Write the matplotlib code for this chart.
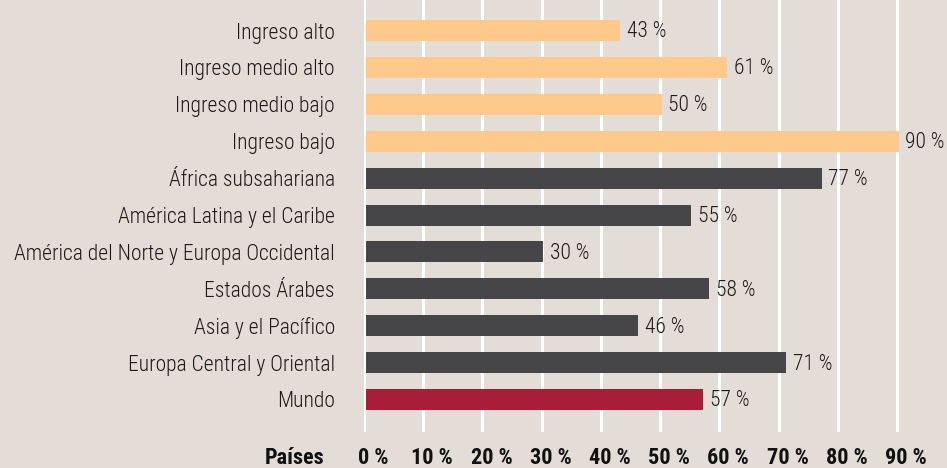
import matplotlib
matplotlib.use("Agg")
import matplotlib.pyplot as plt
from matplotlib import font_manager
from matplotlib.transforms import ScaledTranslation

categories = ["Ingreso alto", "Ingreso medio alto", "Ingreso medio bajo", "Ingreso bajo",
              "África subsahariana", "América Latina y el Caribe",
              "América del Norte y Europa Occidental", "Estados Árabes",
              "Asia y el Pacífico", "Europa Central y Oriental", "Mundo"]
values = [43, 61, 50, 90, 77, 55, 30, 58, 46, 71, 57]
groups = ["ingreso"] * 4 + ["region"] * 6 + ["mundo"]
tick_values = [0, 10, 20, 30, 40, 50, 60, 70, 80, 90]
tick_labels = [f"{v} %" for v in tick_values]
axis_label = "Países"

colors = {"ingreso": "#fec98a", "region": "#464548", "mundo": "#a81d37"}
bg = "#e4dcd6"

names = {f.name for f in font_manager.fontManager.ttflist}
fam = ["Roboto Condensed", "Liberation Sans Narrow", "DejaVu Sans"]
fam = [f for f in fam if f in names] or ["DejaVu Sans"]
plt.rcParams["font.family"] = fam

W, H = 947, 468
fig = plt.figure(figsize=(W / 100, H / 100), dpi=100, facecolor=bg)
ax_left, ax_right = 364, 947
ax_top, ax_bot = 0, 432
ax = fig.add_axes([ax_left / W, 1 - ax_bot / H, (ax_right - ax_left) / W, (ax_bot - ax_top) / H])
ax.set_facecolor(bg)

px_per_unit = (897 - 364) / 90
ax.set_xlim(0, (ax_right - ax_left) / px_per_unit)
spacing = 36.9
top_center = 30.5
ax.set_ylim((ax_bot - top_center) / spacing, -top_center / spacing)

for x in tick_values:
    ax.axvline(x, color="white", lw=2.2, zorder=1)

ypos = list(range(len(categories)))
ax.barh(ypos, values, height=21 / spacing, left=0.3,
        color=[colors[g] for g in groups], zorder=2)

for y, v in zip(ypos, values):
    ax.text(v + 0.3 + 1.1, y + 0.04, f"{v} %", va="center", ha="left", fontsize=15.5,
            fontweight="light", color="#1a1a1a", clip_on=False)

ax.set_yticks(ypos)
ax.set_yticklabels(categories, fontsize=15.5, fontweight="light", color="#1a1a1a")
ax.tick_params(axis="y", length=0, pad=21)

ax.set_xticks(tick_values)
ax.set_xticklabels(tick_labels, fontsize=16, fontweight="bold", color="#111111")
ax.tick_params(axis="x", length=0, pad=19)
off = ScaledTranslation(9 / 100, 0, fig.dpi_scale_trans)
for lab in ax.get_xticklabels():
    lab.set_va("center")
    lab.set_transform(lab.get_transform() + off)

lab_y = -(458 - ax_bot) / (ax_bot - ax_top)
ax.text(-(364 - 324) / px_per_unit, lab_y, axis_label, transform=ax.get_xaxis_transform(),
        fontsize=16, fontweight="bold", ha="right", va="center", color="#111111",
        clip_on=False)

for s in ax.spines.values():
    s.set_visible(False)

fig.savefig("out.png", dpi=100, facecolor=bg)
